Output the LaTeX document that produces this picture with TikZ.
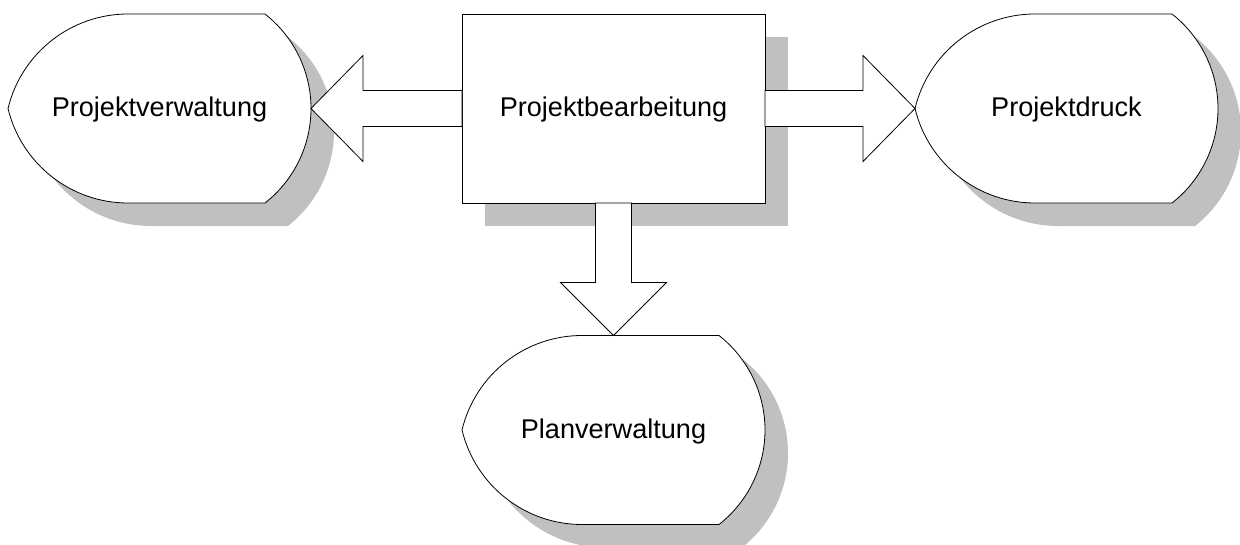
\documentclass[tikz,border=0pt]{standalone}
\usepackage{fontspec}
\setmainfont{Liberation Sans}
\usetikzlibrary{calc,backgrounds}
\definecolor{shadowgray}{HTML}{C0C0C0}
\begin{document}
\begin{tikzpicture}[x=1pt,y=1pt,
  shp/.style={rectangle, minimum width=303pt, minimum height=189pt, inner sep=0pt, outer sep=0pt,
    text height=20pt, text depth=3pt, font=\fontsize{27.1}{32}\selectfont},
  boxnode/.style={shp, draw, fill=white, line width=0.8pt},
  outline/.style={draw, fill=white, line width=0.8pt},
  shadowfill/.style={fill=shadowgray},
  blockarrow/.style={draw, fill=white, line width=0.8pt, line join=miter},
  dispath/.style={insert path={-- ++(-137,0)
      arc[start angle=90,end angle=166.44,radius=123.44]
      arc[start angle=193.56,end angle=270,radius=123.44]
      -- ++(137,0)
      arc[start angle=-51.91,end angle=51.91,radius=120.07] -- cycle}}
]
\useasboundingbox (0,0) rectangle (1240,-545);
\node[shp] (verw) at (159.5,-108.5) {Projektverwaltung};
\node[boxnode] (bearb) at (613.5,-108.5) {Projektbearbeitung};
\node[shp] (druck) at (1066.5,-108.5) {Projektdruck};
\node[shp] (plan) at (613.5,-430) {Planverwaltung};
\begin{scope}[on background layer]
  \foreach \n in {verw,druck,plan}{
    \path[shadowfill] ([xshift=280pt,yshift=-23pt]\n.north west) [dispath];
  }
  \path[shadowfill] ([xshift=23pt,yshift=-23pt]bearb.north west) rectangle ([xshift=23pt,yshift=-23pt]bearb.south east);
  \foreach \n in {verw,druck,plan}{
    \path[outline] ([xshift=257pt]\n.north west) [dispath];
  }
\end{scope}
\draw[blockarrow] let \p1=(bearb.west), \p2=(verw.east) in
  (\x1,\y1+18) -- (\x2+52,\y1+18) -- (\x2+52,\y1+53) -- (\x2,\y1)
  -- (\x2+52,\y1-53) -- (\x2+52,\y1-18) -- (\x1,\y1-18) -- cycle;
\draw[blockarrow] let \p1=(bearb.east), \p2=(druck.west) in
  (\x1,\y1+18) -- (\x2-52,\y1+18) -- (\x2-52,\y1+53) -- (\x2,\y1)
  -- (\x2-52,\y1-53) -- (\x2-52,\y1-18) -- (\x1,\y1-18) -- cycle;
\draw[blockarrow] let \p1=(bearb.south), \p2=(plan.north) in
  (\x1-18,\y1) -- (\x1-18,\y2+53) -- (\x1-53,\y2+53) -- (\x1,\y2)
  -- (\x1+53,\y2+53) -- (\x1+18,\y2+53) -- (\x1+18,\y1) -- cycle;
\end{tikzpicture}
\end{document}
